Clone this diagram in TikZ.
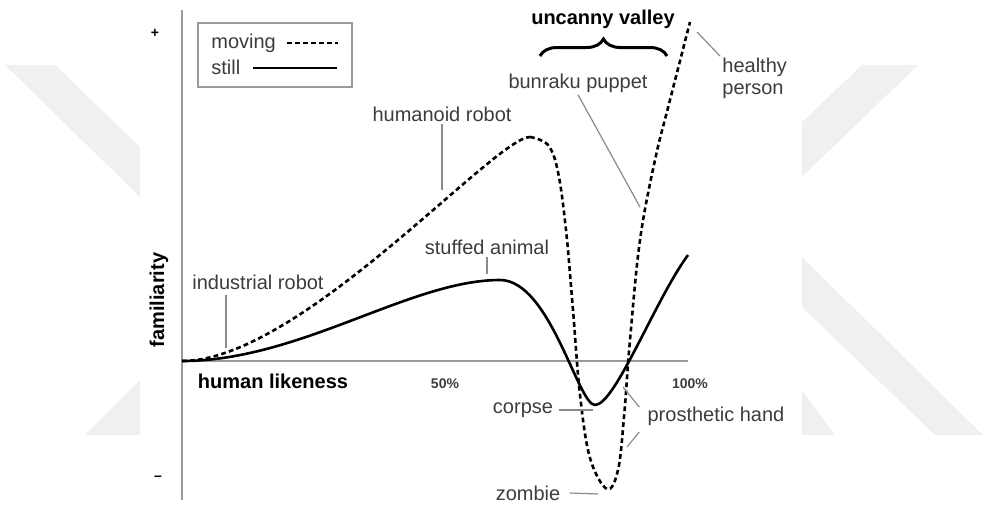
\documentclass[tikz,border=0pt]{standalone}
\usepackage{fontspec}
\setmainfont{Liberation Sans}
\usetikzlibrary{positioning,calc,decorations.pathreplacing}
\usepackage{xcolor}
\definecolor{labelGray}{HTML}{3C3C3C}
\definecolor{leaderGray}{HTML}{8A8A8A}
\definecolor{axisGray}{HTML}{9A9A9A}
\definecolor{markGray}{HTML}{F0F0F0}

\begin{document}
\begin{tikzpicture}[
        x=0.5pt, y=-0.5pt,
        lbl/.style={font=\fontsize{10}{11}\selectfont, text=labelGray, inner sep=1pt}, % plain labels
        bold lbl/.style={font=\bfseries\fontsize{10}{11}\selectfont, inner sep=1pt},
        pct/.style={font=\bfseries\fontsize{7}{8}\selectfont, text=labelGray, inner sep=1pt},
        leader/.style={draw=leaderGray, line width=0.6pt}, % thin pointer lines
        axis line/.style={draw=axisGray, line width=1.1pt},
        still curve/.style={line width=1.3pt, line join=round},
        moving curve/.style={line width=1.3pt, dash pattern=on 2.4pt off 1.6pt}
    ]
    \useasboundingbox (0,0) rectangle (985,505);

    % faint watermark at the sides
    \fill[markGray] (5,65) -- (55,65) -- (140,147) -- (140,197) -- cycle;
    \fill[markGray] (85,435) -- (140,380) -- (140,435) -- cycle;
    \fill[markGray] (862,65) -- (918,65) -- (802,177) -- (802,122) -- cycle;
    \fill[markGray] (802,257) -- (802,307) -- (935,435) -- (983,435) -- cycle;
    \fill[markGray] (802,390) -- (802,435) -- (835,435) -- cycle;

    % axes
    \coordinate (origin) at (182,361);
    \coordinate (ytop) at (182,10);
    \coordinate (ybot) at (182,500);
    \coordinate (xend) at (688,361);
    \draw[axis line] (ytop) -- (ybot);
    \draw[axis line] (origin) -- (xend);

    \node[pct, text=black] (plus) at (155,33) {+};
    \node[pct, text=black] (minus) at (158,478) {–};
    \node[bold lbl, rotate=90] (famil) at (159,300) {familiarity};
    \node[bold lbl] (likeness) at (273,381) {human likeness};
    \node[pct] (half) at (445,384) {50\%};
    \node[pct] (full) at (690,384) {100\%};

    % legend
    \node[draw=axisGray, line width=0.8pt, minimum width=77pt, minimum height=32pt] (legend) at (275,55) {};
    \node[lbl, anchor=west] (movingtxt) at (209,43) {moving};
    \node[lbl, anchor=west] (stilltxt) at (209,67) {still};
    \coordinate (movA) at (287,43);
    \coordinate (movB) at (338,43);
    \coordinate (stlA) at (253,68);
    \coordinate (stlB) at (337,68);
    \draw[moving curve, line width=1pt] (movA) -- (movB);
    \draw[still curve, line width=1pt] (stlA) -- (stlB);

    % the two curves
    \coordinate (movPeak) at (530,137);
    \coordinate (stlPeak) at (500,280);
    \coordinate (stlLow) at (595,405);
    \coordinate (stlEnd) at (688,255);
    \draw[moving curve] (origin) .. controls (300,361) and (495,137) .. (movPeak)
        plot[smooth, tension=0.6] coordinates {
        (530,137) (548,145) (558,172) (566,230) (573,310) (580,395) (590,458)
        (607,489) (618,470) (624,417) (630,340) (640,240) (655,160) (670,100) (690,22)};
    \draw[still curve] (origin) .. controls (300,361) and (410,280) .. (stlPeak)
        .. controls (550,280) and (578,405) .. (stlLow)
        .. controls (615,405) and (655,300) .. (stlEnd);

    % labels and their pointers
    \node[bold lbl] (valley) at (603,19) {uncanny valley};
    \coordinate (braceL) at (540,56);
    \coordinate (braceR) at (667,56);
    \draw[line width=1.5pt, decorate, decoration={brace, amplitude=8.5pt}] (braceL) -- (braceR);

    \node[lbl] (humanoid) at (442,114) {humanoid robot};
    \coordinate (humanoidTip) at (442,190);
    \draw[leader] (humanoid.south) -- (humanoidTip);

    \node[lbl] (industrial) at (258,282) {industrial robot};
    \coordinate (industrialTop) at (226,295);
    \coordinate (industrialTip) at (226,348);
    \draw[leader] (industrialTop) -- (industrialTip);

    \node[lbl] (stuffed) at (487,247) {stuffed animal};
    \coordinate (stuffedTip) at (487,274);
    \draw[leader] (stuffed.south) -- (stuffedTip);

    \node[lbl] (bunraku) at (578,83) {bunraku puppet};
    \coordinate (bunrakuTip) at (640,207);
    \draw[leader] (bunraku.south) -- (bunrakuTip);

    \node[lbl, align=left, anchor=north west] (healthy) at (720,56) {healthy\\person};
    \coordinate (healthyTip) at (697,32);
    \draw[leader] (healthyTip) -- (healthy.north west);

    \node[lbl] (corpse) at (523,410) {corpse};
    \coordinate (corpseTip) at (593,410);
    \draw[leader] ($(corpse.east)+(4,0)$) -- (corpseTip);

    \node[lbl] (prosthetic) at (716,416) {prosthetic hand};
    \coordinate (handA) at ($(prosthetic.west)+(-6,-9)$);
    \coordinate (handB) at ($(prosthetic.west)+(-6,16)$);
    \coordinate (handTipA) at (623,387);
    \coordinate (handTipB) at (627,447);
    \draw[leader] (handA) -- (handTipA);
    \draw[leader] (handB) -- (handTipB);

    \node[lbl] (zombie) at (528,493) {zombie};
    \coordinate (zombieTip) at (598,494);
    \draw[leader] ($(zombie.east)+(7,0)$) -- (zombieTip);
\end{tikzpicture}
\end{document}
